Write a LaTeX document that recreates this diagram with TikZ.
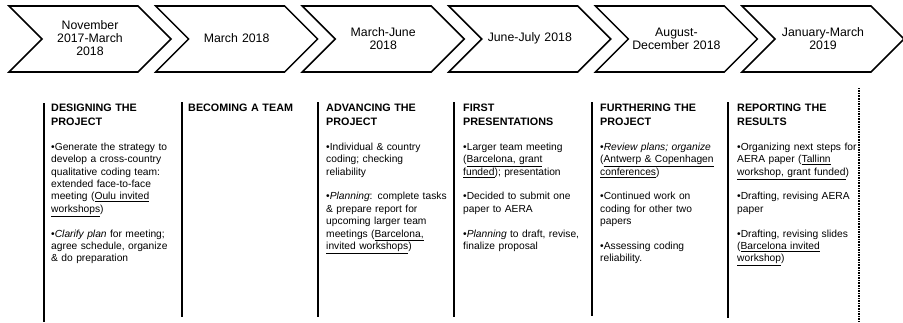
\documentclass[tikz,border=0pt]{standalone}
\usepackage{fontspec}
\setmainfont{Liberation Sans}
\usetikzlibrary{positioning}

\tikzset{
  phase/.style={draw, line width=1.3pt, line join=miter},
  period/.style={inner sep=0pt, text width=3.8cm, align=center, font=\fontsize{10.5}{11.1}\selectfont},
  stage/.style={anchor=base west, inner sep=0pt, text width=4.2cm, align=left, font=\bfseries\fontsize{9.2}{11.9}\selectfont},
  tasks/.style={anchor=base west, inner sep=0pt, text width=4.2cm, align=left, font=\fontsize{8.75}{10.55}\selectfont},
  divider/.style={line width=1.2pt},
}
% blank line between two bullet points
\newcommand{\gap}{\\[10.55pt]}

\begin{document}
\begin{tikzpicture}[x=0.03cm, y=-0.03cm]
    \useasboundingbox (0,0) rectangle (903,322);

    % Timeline chevrons
    \foreach \x in {9,155.6,302.2,448.8,595.4,742}
        \draw[phase] (\x,6) -- ++(129,0) -- ++(33,33) -- ++(-33,33) -- ++(-129,0) -- ++(33,-33) -- cycle;

    \node[period] (nov17) at (90,38.5) {November\\2017-March\\2018};
    \node[period] (mar18) at (236.6,38.5) {March 2018};
    \node[period] (marjun) at (383.2,38.5) {March-June\\2018};
    \node[period] (junjul) at (529.8,38.5) {June-July 2018};
    \node[period] (augdec) at (676.4,38.5) {August-\\December 2018};
    \node[period] (janmar) at (823,38.5) {January-March\\2019};

    % Column separators
    \draw[divider] (44,103) -- (44,322);
    \draw[divider] (182,102) -- (182,317);
    \draw[divider] (318,102) -- (318,317);
    \draw[divider] (454,102) -- (454,317);
    \draw[divider] (592,102) -- (592,316);
    \draw[divider] (728,102) -- (728,318);
    \draw[line width=1.1pt, dash pattern=on 0.7pt off 0.7pt] (859,88) -- (859,322);

    % Stage headings
    \node[stage] (design) at (51,111.5) {DESIGNING THE\\PROJECT};
    \node[stage] (team) at (188,111.5) {BECOMING A TEAM};
    \node[stage] (advance) at (326,111.5) {ADVANCING THE\\PROJECT};
    \node[stage] (present) at (463,111.5) {FIRST\\PRESENTATIONS};
    \node[stage] (further) at (600,111.5) {FURTHERING THE\\PROJECT};
    \node[stage] (report) at (737,111.5) {REPORTING THE\\RESULTS};

    % What was done in each stage
    \node[tasks] (designtxt) at (51,150.5) {%
        •Generate the strategy to\\
        develop a cross-country\\
        qualitative coding team:\\
        extended face-to-face\\
        meeting (\underline{Oulu invited}\\
        \underline{workshops})\gap
        •\textit{Clarify plan} for meeting;\\
        agree schedule, organize\\
        \& do preparation};

    \node[tasks] (advancetxt) at (326,150.5) {%
        •Individual \& country\\
        coding; checking\\
        reliability\gap
        •\textit{Planning}: complete tasks\\
        \& prepare report for\\
        upcoming larger team\\
        meetings (\underline{Barcelona,}\\
        \underline{invited workshops})};

    \node[tasks] (presenttxt) at (463,150.5) {%
        •Larger team meeting\\
        (\underline{Barcelona, grant}\\
        \underline{funded}); presentation\gap
        •Decided to submit one\\
        paper to AERA\gap
        •\textit{Planning} to draft, revise,\\
        finalize proposal};

    \node[tasks] (furthertxt) at (600,150.5) {%
        •\textit{Review plans; organize}\\
        (\underline{Antwerp \& Copenhagen}\\
        \underline{conferences})\gap
        •Continued work on\\
        coding for other two\\
        papers\gap
        •Assessing coding\\
        reliability.};

    \node[tasks] (reporttxt) at (737,150.5) {%
        •Organizing next steps for\\
        AERA paper (\underline{Tallinn}\\
        \underline{workshop, grant funded})\gap
        •Drafting, revising AERA\\
        paper\gap
        •Drafting, revising slides\\
        (\underline{Barcelona invited}\\
        \underline{workshop})};
\end{tikzpicture}
\end{document}
